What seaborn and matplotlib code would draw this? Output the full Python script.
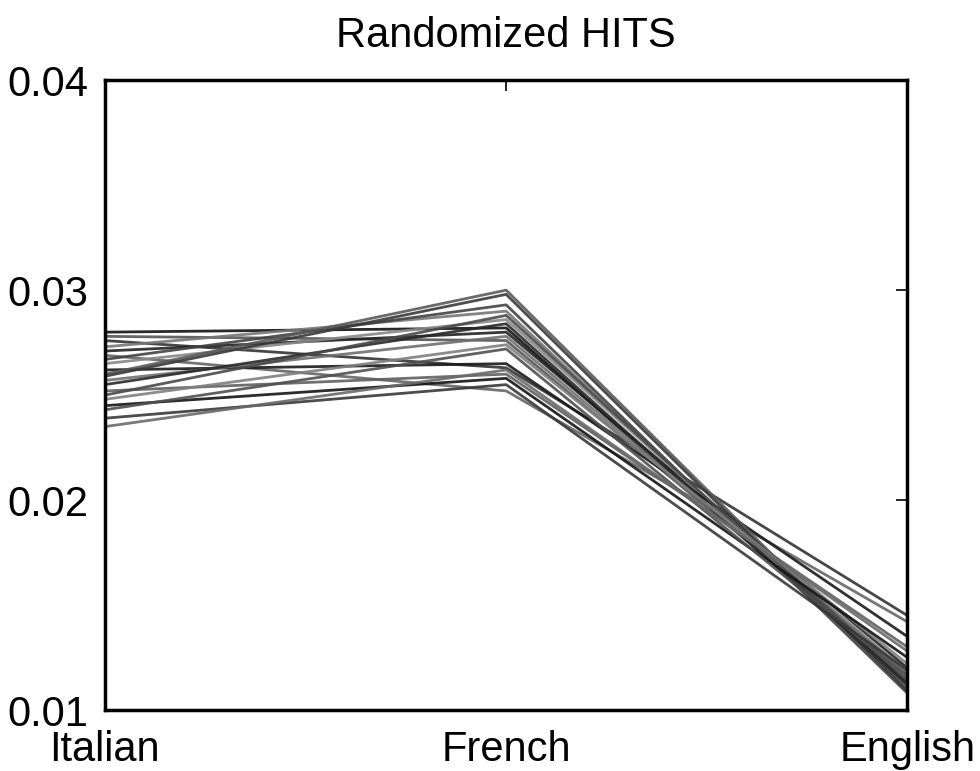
import matplotlib
matplotlib.use("Agg")
import matplotlib.pyplot as plt
import seaborn as sns
import pandas as pd

sns.set_theme(style="white")
plt.rcParams['font.family'] = ['Liberation Sans', 'DejaVu Sans']

languages = ["Italian", "French", "English"]
italian = [0.0280, 0.0278, 0.0276, 0.0273, 0.0271, 0.0269, 0.0267, 0.0265, 0.0262, 0.0260,
           0.0259, 0.0257, 0.0255, 0.0252, 0.0250, 0.0248, 0.0245, 0.0243, 0.0239, 0.0235]
french = [0.0282, 0.0276, 0.0263, 0.0290, 0.0280, 0.0252, 0.0293, 0.0286, 0.0265, 0.0300,
          0.0298, 0.0278, 0.0284, 0.0260, 0.0288, 0.0274, 0.0258, 0.0272, 0.0255, 0.0262]
english = [0.0113, 0.0117, 0.0145, 0.0111, 0.0120, 0.0142, 0.0108, 0.0115, 0.0135, 0.0110,
           0.0109, 0.0118, 0.0112, 0.0130, 0.0114, 0.0122, 0.0125, 0.0116, 0.0119, 0.0128]
grays = ["#111111", "#555555", "#333333", "#777777", "#222222", "#666666", "#444444", "#888888",
         "#1a1a1a", "#5a5a5a", "#3a3a3a", "#707070", "#2a2a2a", "#606060", "#4a4a4a", "#808080",
         "#151515", "#505050", "#383838", "#6a6a6a"]

rows = []
for i in range(len(italian)):
    for j, v in enumerate([italian[i], french[i], english[i]]):
        rows.append({"run": i, "pos": j, "value": v})
df = pd.DataFrame(rows)

fig = plt.figure(figsize=(9.8, 7.71), dpi=100)
ax = fig.add_axes([0.107, 0.079, 0.819, 0.817])
sns.lineplot(data=df, x="pos", y="value", hue="run", palette=grays, legend=False,
             linewidth=2.0, alpha=0.9, ax=ax, sort=False)

ax.set_xlim(0, 2)
ax.set_ylim(0.01, 0.04)
ax.set_xticks([0, 1, 2])
ax.set_xticklabels(languages)
ax.set_yticks([0.01, 0.02, 0.03, 0.04])
ax.set_yticklabels(["0.01", "0.02", "0.03", "0.04"])
ax.set_xlabel("")
ax.set_ylabel("")
ax.set_title("Randomized HITS", fontsize=30, pad=24, color="black")
ax.tick_params(axis="both", direction="in", length=8, width=1.2, colors="black",
               labelsize=30, top=True, right=True, labelcolor="black")
ax.tick_params(axis="x", pad=14)
ax.tick_params(axis="y", pad=12)
for s in ax.spines.values():
    s.set_color("black")
    s.set_linewidth(2.5)
ax.grid(False)
fig.savefig("out.png", dpi=100)
